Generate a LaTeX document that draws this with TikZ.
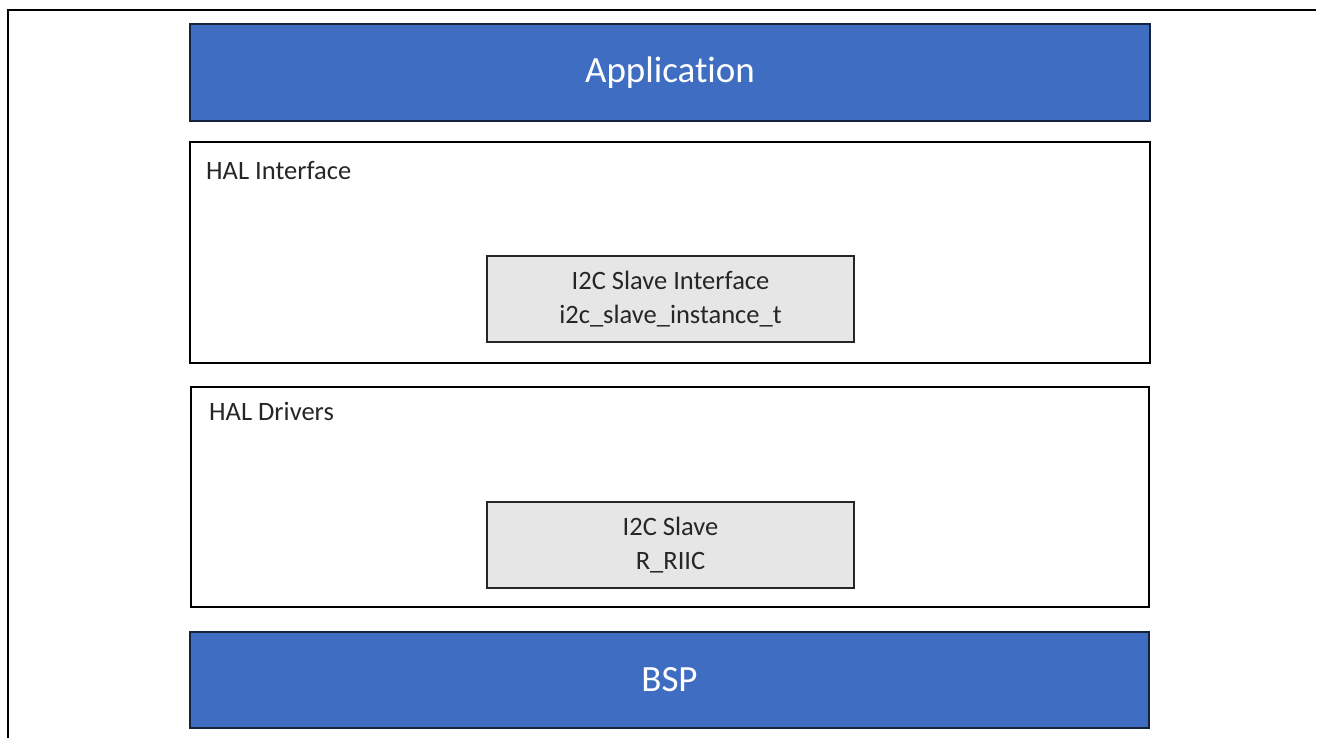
\documentclass[tikz,border=0pt]{standalone}
\usepackage{fontspec}
\setmainfont{Carlito}[Ligatures=NoCommon]
\usepackage{tikz}
\usetikzlibrary{positioning}

\definecolor{schichtblau}{RGB}{63,109,194}
\definecolor{modulgrau}{RGB}{231,230,230}
\definecolor{randblau}{RGB}{22,34,60}

\tikzset{
	schicht/.style={draw=randblau, line width=2.5pt, fill=schichtblau, text=white, inner sep=0pt,
		font=\fontsize{37}{44}\selectfont},
	gruppe/.style={draw=black, line width=2pt, fill=white, inner sep=0pt},
	modul/.style={draw=black!85, line width=2pt, fill=modulgrau, inner sep=0pt, align=center,
		text=black!85, font=\fontsize{26.5}{34}\selectfont, minimum width=367pt, minimum height=86pt},
	titel/.style={anchor=west, inner sep=0pt, text=black!85, font=\fontsize{26.5}{32}\selectfont}
}

\begin{document}
\begin{tikzpicture}[x=1pt, y=-1pt]
	\useasboundingbox (0,0) rectangle (1318,738); % Rand wie im Original
	
	\draw[line width=2pt] (8,738) -- (8,10) -- (1316,10); % Rahmen links und oben
	
	\node[schicht, minimum width=960pt, minimum height=97pt] (app) at (670,72.5) {Application};
	
	\node[gruppe, minimum width=960pt, minimum height=221pt] (halif) at (670,252.5) {};
	\node[titel] (halif-titel) at (206,171) {HAL Interface};
	\node[modul] (i2cif) at (670.5,299) {I2C Slave Interface\\i2c\_slave\_instance\_t};
	
	\node[gruppe, minimum width=958pt, minimum height=220pt] (haldrv) at (670,497) {};
	\node[titel] (haldrv-titel) at (209,411) {HAL Drivers};
	\node[modul] (i2cdrv) at (670.5,545) {I2C Slave\\R\_RIIC};
	
	\node[schicht, minimum width=959pt, minimum height=96pt] (bsp) at (669.5,680) {BSP};
	
	%\draw[help lines] (0,0) grid[step=50] (1318,738);
\end{tikzpicture}
\end{document}
